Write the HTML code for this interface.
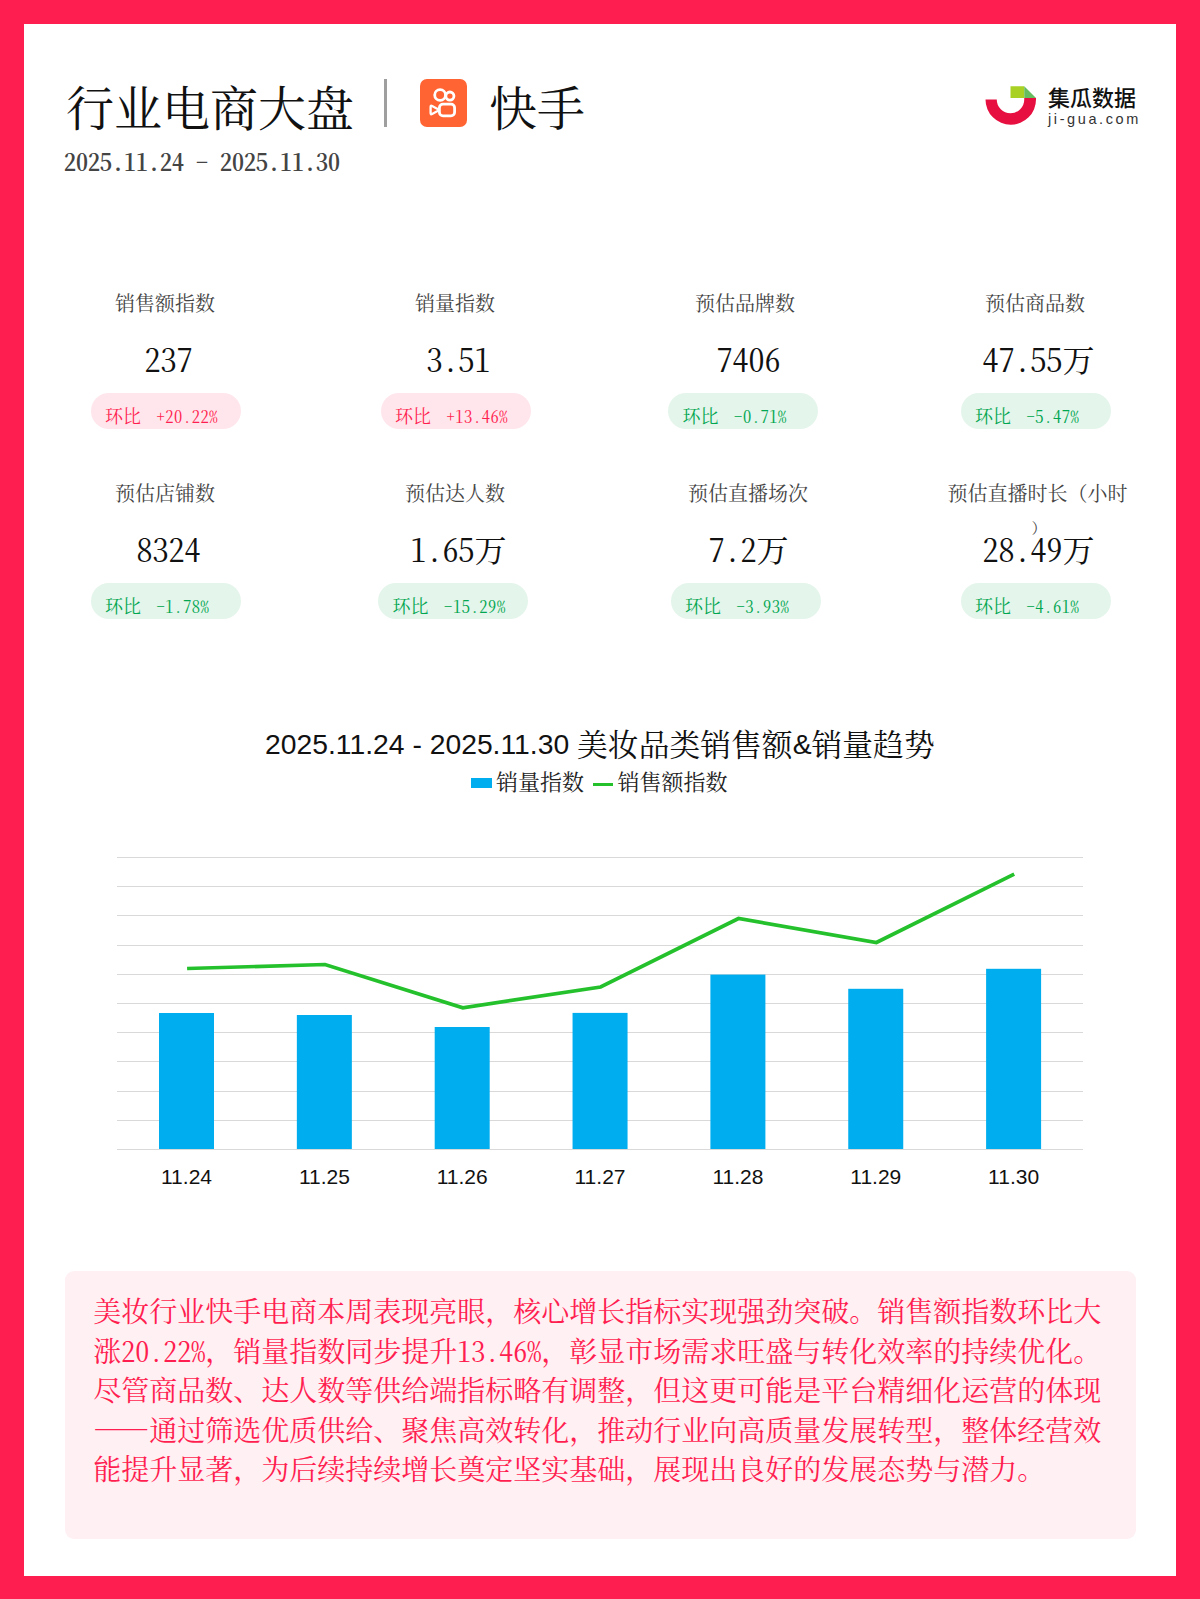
<!DOCTYPE html>
<html lang="zh-CN">
<head>
<meta charset="utf-8">
<title>行业电商大盘 - 快手</title>
<style>
html,body{margin:0;padding:0;}
body{width:1200px;height:1599px;overflow:hidden;background:#ff1e50;}
.page{position:relative;width:1200px;height:1599px;background:#ff1e50;}
.inner{position:absolute;left:24px;top:24px;width:1152px;height:1552px;background:#fff;}
.abs{position:absolute;white-space:nowrap;}
.title{left:66px;top:78px;font-size:48px;line-height:56px;color:#111;font-family:"Noto Serif CJK SC",serif;}
.divider{position:absolute;left:384px;top:79px;width:3px;height:48px;background:#9f9f9f;}
.ks{position:absolute;left:420px;top:79px;width:47px;height:48px;}
.brand{left:489px;top:78px;font-size:48px;line-height:56px;color:#111;font-family:"Noto Serif CJK SC",serif;}
.date{left:64px;top:144.5px;font-size:24px;line-height:32px;color:#444;font-weight:600;font-family:"Noto Serif CJK SC",serif;font-feature-settings:"hwid" 1;}
.logo{position:absolute;left:984px;top:84px;width:54px;height:42px;}
.logo-cn{left:1048px;top:82.5px;font-size:22px;line-height:26px;color:#111;font-family:"Noto Sans CJK SC",sans-serif;font-weight:500;}
.logo-en{left:1048px;top:109.5px;font-size:14.5px;line-height:18px;color:#333;font-family:"Liberation Sans",sans-serif;letter-spacing:2.6px;}

.card{position:absolute;width:290px;text-align:center;}
.card .lbl{position:absolute;left:0;width:290px;top:-3px;font-size:20px;line-height:36px;color:#444;font-family:"Noto Serif CJK SC",serif;}
.card .num{position:absolute;left:3.5px;width:290px;top:50px;font-size:32px;line-height:40px;color:#111;font-family:"Noto Serif CJK SC",serif;font-feature-settings:"hwid" 1;}
.card .pill{position:absolute;left:70.5px;top:105.3px;width:150px;height:36px;border-radius:18px;font-size:18px;line-height:36px;text-align:left;font-family:"Noto Serif CJK SC",serif;font-feature-settings:"hwid" 1;white-space:nowrap;}
.pill.up{background:#ffe6ec;color:#ff1e50;}
.pill.dn{background:#e4f5eb;color:#00a650;}
.pill .k{display:inline-block;margin-left:14.5px;width:51.5px;}
.pill .t{position:relative;top:4px;}
.pill .v{font-size:16.5px;letter-spacing:0.55px;}

.ctitle{left:265px;top:722.5px;font-size:28px;line-height:40px;color:#111;}
.ctitle .lat{font-family:"Liberation Sans",sans-serif;font-size:28.3px;position:relative;top:-2px;}
.ctitle .cjk{font-family:"Noto Serif CJK SC",serif;font-size:30.8px;}
.legend{left:471px;top:766px;font-size:22px;line-height:30px;color:#222;font-family:"Noto Serif CJK SC",serif;}
.sw1{display:inline-block;width:21px;height:9.5px;background:#00aeef;vertical-align:middle;margin-right:4px;position:relative;top:-1.5px;}
.sw2{display:inline-block;width:20px;height:3.3px;background:#25c12c;vertical-align:middle;margin:0 4.5px 0 9px;}

.note{position:absolute;left:65px;top:1271px;width:1071px;height:268px;border-radius:9px;background:#fff0f4;}
.note p{position:absolute;left:28.2px;top:20px;width:1012px;margin:0;font-size:28px;line-height:39.6px;color:#ff1e50;font-family:"Noto Serif CJK SC",serif;white-space:nowrap;}
.h{font-feature-settings:"hwid" 1;}
</style>
</head>
<body>
<div class="page">
<div class="inner"></div>

<div class="abs title">行业电商大盘</div>
<div class="divider"></div>
<svg class="ks" viewBox="0 0 47 48">
  <rect x="0" y="0" width="47" height="48" rx="7" fill="#ff6432"/>
  <g fill="none" stroke="#fff" stroke-width="2.8" stroke-linejoin="round">
    <circle cx="20.1" cy="15.95" r="5.4"/>
    <circle cx="29.9" cy="17.05" r="4.05"/>
    <rect x="19.4" y="25.15" width="15.2" height="11.75" rx="3.6"/>
    <path d="M10.6 27.9 Q10.6 26.2 12.1 27 L18 30.3 Q19.3 31 18 31.7 L12.1 35 Q10.6 35.8 10.6 34.1 Z" stroke-width="2.3"/>
  </g>
</svg>
<div class="abs brand">快手</div>
<div class="abs date">2025.11.24 - 2025.11.30</div>

<svg class="logo" viewBox="0 0 54 42">
  <path d="M1.5 15.5 A25.25 25.25 0 0 0 52 15.5 L52 14 L40.25 14 L40.25 15.5 A13.75 13.75 0 0 1 12.75 15.5 Z" fill="#e60f3f"/>
  <rect x="26.5" y="2.25" width="13.75" height="11.75" fill="#a8d124"/>
  <path d="M40.25 2.25 L52 14 L40.25 14 Z" fill="#66bd5f"/>
</svg>
<div class="abs logo-cn">集瓜数据</div>
<div class="abs logo-en">ji-gua.com</div>

<!-- cards row 1 -->
<div class="card" style="left:20px;top:288px;">
  <div class="lbl">销售额指数</div><div class="num">237</div>
  <div class="pill up"><span class="t"><span class="k">环比</span><span class="v">+20.22%</span></span></div>
</div>
<div class="card" style="left:310px;top:288px;">
  <div class="lbl">销量指数</div><div class="num">3.51</div>
  <div class="pill up"><span class="t"><span class="k">环比</span><span class="v">+13.46%</span></span></div>
</div>
<div class="card" style="left:600px;top:288px;">
  <div class="lbl">预估品牌数</div><div class="num">7406</div>
  <div class="pill dn" style="left:68.1px;"><span class="t"><span class="k">环比</span><span class="v">-0.71%</span></span></div>
</div>
<div class="card" style="left:890px;top:288px;">
  <div class="lbl">预估商品数</div><div class="num">47.55万</div>
  <div class="pill dn"><span class="t"><span class="k">环比</span><span class="v">-5.47%</span></span></div>
</div>
<!-- cards row 2 -->
<div class="card" style="left:20px;top:478px;">
  <div class="lbl">预估店铺数</div><div class="num">8324</div>
  <div class="pill dn"><span class="t"><span class="k">环比</span><span class="v">-1.78%</span></span></div>
</div>
<div class="card" style="left:310px;top:478px;">
  <div class="lbl">预估达人数</div><div class="num">1.65万</div>
  <div class="pill dn" style="left:68.1px;"><span class="t"><span class="k">环比</span><span class="v">-15.29%</span></span></div>
</div>
<div class="card" style="left:600px;top:478px;">
  <div class="lbl" style="left:3px;">预估直播场次</div><div class="num">7.2万</div>
  <div class="pill dn"><span class="t"><span class="k">环比</span><span class="v">-3.93%</span></span></div>
</div>
<div class="card" style="left:890px;top:478px;">
  <div class="lbl" style="left:2.5px;">预估直播时长（小时<br><span style="position:relative;left:1.5px;top:-3px;font-size:15px;">）</span></div><div class="num">28.49万</div>
  <div class="pill dn"><span class="t"><span class="k">环比</span><span class="v">-4.61%</span></span></div>
</div>

<div class="abs ctitle"><span class="lat">2025.11.24 - 2025.11.30 </span><span class="cjk">美妆品类销售额</span><span class="lat">&amp;</span><span class="cjk">销量趋势</span></div>
<div class="abs legend"><span class="sw1"></span><span>销量指数</span><span class="sw2"></span><span>销售额指数</span></div>

<svg style="position:absolute;left:0;top:0;" width="1200" height="1599" viewBox="0 0 1200 1599">
  <g stroke="#d9d9d9" stroke-width="1.1">
    <line x1="117" y1="857.5" x2="1083" y2="857.5"/>
    <line x1="117" y1="886.5" x2="1083" y2="886.5"/>
    <line x1="117" y1="915.5" x2="1083" y2="915.5"/>
    <line x1="117" y1="945.5" x2="1083" y2="945.5"/>
    <line x1="117" y1="974.5" x2="1083" y2="974.5"/>
    <line x1="117" y1="1003.5" x2="1083" y2="1003.5"/>
    <line x1="117" y1="1032.5" x2="1083" y2="1032.5"/>
    <line x1="117" y1="1061.5" x2="1083" y2="1061.5"/>
    <line x1="117" y1="1091.5" x2="1083" y2="1091.5"/>
    <line x1="117" y1="1120.5" x2="1083" y2="1120.5"/>
    <line x1="117" y1="1149.5" x2="1083" y2="1149.5"/>
  </g>
  <g fill="#00aeef">
    <rect x="159.00" y="1013" width="55" height="136.0"/>
    <rect x="296.85" y="1015" width="55" height="134.0"/>
    <rect x="434.70" y="1027" width="55" height="122.0"/>
    <rect x="572.55" y="1012.9" width="55" height="136.1"/>
    <rect x="710.40" y="974.6" width="55" height="174.4"/>
    <rect x="848.25" y="988.8" width="55" height="160.2"/>
    <rect x="986.10" y="968.8" width="55" height="180.2"/>
  </g>
  <polyline fill="none" stroke="#25c12c" stroke-width="3.7" stroke-linejoin="miter" points="187.1,968.5 325.0,964.5 462.8,1007.8 600.6,987 738.5,918.5 876.4,942.5 1014.2,874.2"/>
  <g font-family="Liberation Sans, Arial, sans-serif" font-size="21" fill="#111" text-anchor="middle">
    <text x="186.5" y="1184.3">11.24</text>
    <text x="324.4" y="1184.3">11.25</text>
    <text x="462.2" y="1184.3">11.26</text>
    <text x="600.0" y="1184.3">11.27</text>
    <text x="737.9" y="1184.3">11.28</text>
    <text x="875.8" y="1184.3">11.29</text>
    <text x="1013.6" y="1184.3">11.30</text>
  </g>
</svg>

<div class="note"><p>美妆行业快手电商本周表现亮眼，核心增长指标实现强劲突破。销售额指数环比大<br>涨<span class="h">20.22%</span>，销量指数同步提升<span class="h">13.46%</span>，彰显市场需求旺盛与转化效率的持续优化。<br>尽管商品数、达人数等供给端指标略有调整，但这更可能是平台精细化运营的体现<br>——通过筛选优质供给、聚焦高效转化，推动行业向高质量发展转型，整体经营效<br>能提升显著，为后续持续增长奠定坚实基础，展现出良好的发展态势与潜力。</p></div>

</div>
</body>
</html>
